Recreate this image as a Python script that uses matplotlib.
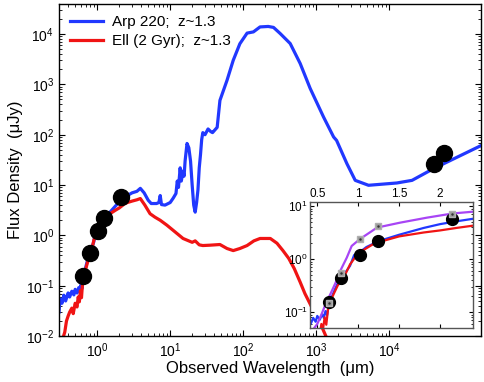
import matplotlib
matplotlib.use("Agg")
import matplotlib.pyplot as plt
from matplotlib.ticker import FixedLocator, LogFormatterSciNotation, NullFormatter, LogLocator
import numpy as np

plt.rcParams['font.family'] = ['Liberation Sans', 'DejaVu Sans']

# Arp 220 template, z~1.3 (wavelength in um, flux in uJy)
arp_wave = [0.30, 0.31, 0.33, 0.35, 0.37, 0.40, 0.42, 0.45, 0.48, 0.50, 0.53, 0.56, 0.58,
            0.60, 0.62, 0.64, 0.68, 0.72, 0.76, 0.80, 0.85, 0.90, 0.95, 1.00, 1.10, 1.25,
            1.5, 1.8, 2.0, 2.2, 2.4, 2.6, 3.0, 3.5, 3.9, 4.4, 5.0, 5.5, 6.5, 7.0, 7.3, 7.6,
            8.5, 10, 11, 12, 12.5, 13, 13.7, 14.2, 15, 15.5, 16, 17, 18, 19, 20, 21, 22, 23,
            24, 25, 26, 27, 28, 30, 33, 36, 38, 44, 48, 60, 73, 90, 113, 138, 170, 220, 260,
            321, 440, 603, 827, 1260, 1730, 1900, 2630, 3420, 5200, 12700, 20500, 40400, 176000]
arp_flux = [0.030, 0.055, 0.045, 0.065, 0.050, 0.072, 0.060, 0.078, 0.066, 0.085, 0.072, 0.092,
            0.078, 0.105, 0.088, 0.14, 0.20, 0.28, 0.38, 0.45, 0.58, 0.75, 1.2, 1.3, 1.7, 2.2,
            2.9, 3.9, 4.6, 5.2, 5.8, 6.2, 7.0, 7.5, 8.6, 7.0, 5.0, 4.3, 4.3, 4.5, 6.2, 4.1,
            4.0, 4.5, 5.5, 6.8, 12, 9, 22, 12, 19, 15, 30, 67, 55, 30, 10, 4, 2.9, 4.5,
            8, 22, 40, 80, 110, 100, 130, 115, 110, 140, 480, 1200, 3000, 6400, 10400, 11000,
            13800, 14100, 13500, 10200, 6460, 2590, 826, 224, 90, 77, 26.6, 12.4, 9.9, 11,
            12.4, 21.2, 59.7]

# Elliptical (2 Gyr) template, z~1.3
ell_wave = [0.33, 0.36, 0.38, 0.40, 0.42, 0.45, 0.47, 0.50, 0.53, 0.55, 0.57, 0.59, 0.61,
            0.63, 0.66, 0.70, 0.75, 0.80, 0.85, 0.90, 1.0, 1.2, 1.5, 1.8, 2.0, 2.2, 2.4, 2.6,
            3.0, 3.5, 3.9, 4.5, 5.3, 6.2, 7.3, 9, 11, 15, 20, 22, 25, 28, 35, 48, 60, 73, 90,
            113, 140, 170, 235, 290, 350, 420, 500, 600, 700, 850, 1000, 1200, 1400]
ell_flux = [0.008, 0.012, 0.020, 0.025, 0.030, 0.036, 0.028, 0.045, 0.038, 0.060, 0.048, 0.080,
            0.058, 0.11, 0.16, 0.22, 0.32, 0.40, 0.55, 0.80, 1.3, 2.0, 2.7, 3.2, 3.5, 3.9,
            4.3, 4.5, 4.8, 5.1, 5.4, 4.0, 2.7, 2.3, 2.0, 1.6, 1.26, 0.87, 0.73, 0.78, 0.65,
            0.63, 0.64, 0.66, 0.55, 0.50, 0.55, 0.63, 0.78, 0.87, 0.87, 0.70, 0.50, 0.35,
            0.22, 0.12, 0.07, 0.04, 0.025, 0.015, 0.009]

# third template, shown in the inset only
pur_wave = [0.44, 0.50, 0.55, 0.60, 0.66, 0.72, 0.78, 0.86, 0.92, 1.02, 1.23, 1.51, 1.84, 2.15, 2.4]
pur_flux = [0.045, 0.06, 0.09, 0.14, 0.22, 0.35, 0.6, 1.07, 1.78, 2.4, 3.96, 4.9, 6.1, 7.3, 7.9]

# observed photometry
obs_wave = [0.64, 0.79, 1.02, 1.24, 2.15, 41600, 56000]
obs_flux = [0.153, 0.44, 1.2, 2.2, 5.7, 25.8, 42.6]

# model photometry (grey squares)
mod_wave = [0.64, 0.79, 1.02, 1.24, 2.15]
mod_flux = [0.15, 0.55, 2.4, 4.2, 7.0]

blue = '#2138ff'
red = '#f01414'
purple = '#a845f5'

fig = plt.figure(figsize=(4.85, 3.82), dpi=100)
ax = fig.add_axes([0.1216, 0.12, 0.870, 0.869])

ax.plot(arp_wave, arp_flux, color=blue, lw=2.3, label='Arp 220;  z~1.3')
ax.plot(ell_wave, ell_flux, color=red, lw=2.3, label='Ell (2 Gyr);  z~1.3')
ax.plot(obs_wave, obs_flux, 'o', color='black', ms=11.5, zorder=5)

ax.set_xscale('log')
ax.set_yscale('log')
ax.set_xlim(0.3, 1.8e5)
ax.set_ylim(1e-2, 3.9e4)

ax.xaxis.set_major_locator(FixedLocator([1, 10, 100, 1e3, 1e4]))
ax.xaxis.set_major_formatter(LogFormatterSciNotation())
minors = [k * 10.0 ** e for e in range(-1, 4) for k in range(2, 10)]
minors = [m for m in minors if 0.3 <= m <= 1e4]
ax.xaxis.set_minor_locator(FixedLocator(minors))
ax.xaxis.set_minor_formatter(NullFormatter())
ax.yaxis.set_major_locator(LogLocator(base=10, numticks=20))
ax.yaxis.set_minor_locator(LogLocator(base=10, subs=np.arange(2, 10), numticks=20))
ax.yaxis.set_minor_formatter(NullFormatter())

ax.tick_params(which='both', direction='in', top=True, right=True, labelsize=10)
ax.tick_params(which='major', length=4)
ax.tick_params(which='minor', length=2)
for s in ax.spines.values():
    s.set_linewidth(1.0)

ax.set_xlabel('Observed Wavelength  (\u03bcm)', fontsize=12, labelpad=1)
ax.set_ylabel('Flux Density  (\u03bcJy)', fontsize=12, labelpad=2)

ax.legend(loc='upper left', frameon=False, fontsize=11, handlelength=2.2,
          handletextpad=0.6, borderaxespad=0.3, labelspacing=0.35)

# inset: zoom on the optical / near-IR
ins = fig.add_axes([0.639, 0.141, 0.336, 0.330])
ins.set_facecolor('white')
ins.plot(arp_wave, arp_flux, color=blue, lw=1.6)
ins.plot(ell_wave, ell_flux, color=red, lw=1.6)
ins.plot(pur_wave, pur_flux, color=purple, lw=1.6)
ins.plot(obs_wave, obs_flux, 'o', color='black', ms=8.5, zorder=5)
ins.plot(mod_wave, mod_flux, 's', color='#9a9a9a', mec='#b0b0b0', ms=4.5, zorder=6)
ins.plot(mod_wave, mod_flux, '.', color='#333333', ms=1.5, zorder=7)
ins.set_yscale('log')
ins.set_xlim(0.41, 2.4)
ins.set_ylim(0.05, 12)
ins.set_xticks([0.5, 1, 1.5, 2])
ins.set_xticklabels(['0.5', '1', '1.5', '2'])
ins.yaxis.set_minor_formatter(NullFormatter())
ins.tick_params(which='both', direction='in', top=True, right=True, bottom=True,
                labeltop=True, labelbottom=False, labelsize=8.5, pad=1.5)
ins.tick_params(which='major', length=3)
ins.tick_params(which='minor', length=1.5)
for s in ins.spines.values():
    s.set_color('#555555')
    s.set_linewidth(1.0)

fig.savefig('out.png', dpi=100)
